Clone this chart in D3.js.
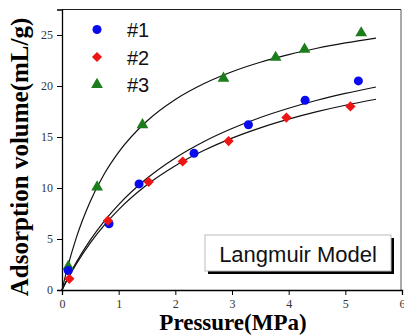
<!DOCTYPE html>
<html>
<head>
<meta charset="UTF-8">
<title>Langmuir adsorption</title>
<script src="https://cdn.jsdelivr.net/npm/d3@7"></script>
<style>
  body { margin: 0; background: #fff; }
  svg { display: block; }
</style>
</head>
<body>
<script>
// measured points (pressure MPa, adsorption mL/g)
var p1 = [0.11, 0.83, 1.36, 2.33, 3.29, 4.29, 5.23];
var v1 = [1.9, 6.5, 10.4, 13.4, 16.2, 18.6, 20.5];
var p2 = [0.13, 0.81, 1.53, 2.13, 2.94, 3.96, 5.09];
var v2 = [1.1, 6.8, 10.6, 12.6, 14.6, 16.9, 18.0];
var p3 = [0.11, 0.62, 1.42, 2.85, 3.77, 4.28, 5.28];
var v3 = [2.3, 10.1, 16.2, 20.75, 22.8, 23.6, 25.2];

// fitted curves
var fitP = [0, 0.1, 0.25, 0.5, 0.75, 1, 1.5, 2, 2.5, 3, 3.5, 4, 4.5, 5, 5.54];
var fit1 = [0, 1.14, 2.68, 4.91, 6.78, 8.37, 10.95, 12.95, 14.54, 15.83, 16.91, 17.82, 18.6, 19.27, 19.9];
var fit2 = [0, 1.07, 2.53, 4.62, 6.38, 7.88, 10.31, 12.18, 13.67, 14.89, 15.9, 16.75, 17.48, 18.11, 18.7];
var fit3 = [0, 2.26, 5.09, 8.71, 11.42, 13.52, 16.57, 18.68, 20.22, 21.4, 22.33, 23.08, 23.7, 24.22, 24.7];

var xTicks = [0, 1, 2, 3, 4, 5, 6];
var yTicks = [0, 5, 10, 15, 20, 25];
var names = ["#1", "#2", "#3"];

var W = 404, H = 335;
var svg = d3.select("body").append("svg").attr("width", W).attr("height", H);

var x = d3.scaleLinear().domain([0, 6]).range([62, 402]);
var y = d3.scaleLinear().domain([0, 27.5]).range([290, 9.5]);

// frame top / right
svg.append("line").attr("x1", x(0)).attr("x2", 401).attr("y1", y(27.5)).attr("y2", y(27.5))
  .attr("stroke", "#222").attr("stroke-width", 1.2);
svg.append("line").attr("x1", 401).attr("x2", 401).attr("y1", y(27.5)).attr("y2", y(0))
  .attr("stroke", "#555").attr("stroke-width", 1);

// x axis
var gx = svg.append("g").attr("transform", "translate(0," + y(0) + ")");
gx.call(d3.axisBottom(x).tickValues(d3.range(0.5, 6, 1)).tickSize(3).tickFormat(""));
gx.call(d3.axisBottom(x).tickValues(xTicks).tickSize(5).tickPadding(4).tickFormat(d3.format("d")));
gx.selectAll(".domain").attr("stroke", "#000").attr("stroke-width", 1.3);
gx.selectAll("text").attr("font-family", "Liberation Serif").attr("font-size", 12).attr("fill", "#333");

// y axis
var gy = svg.append("g").attr("transform", "translate(" + x(0) + ",0)");
gy.call(d3.axisLeft(y).tickValues(d3.range(2.5, 27.5, 5)).tickSize(3).tickFormat(""));
gy.call(d3.axisLeft(y).tickValues(yTicks).tickSize(5).tickPadding(4).tickFormat(d3.format("d")));
gy.selectAll(".domain").attr("stroke", "#000").attr("stroke-width", 1.3);
gy.selectAll("text").attr("font-family", "Liberation Serif").attr("font-size", 12).attr("fill", "#333");

// axis titles
svg.append("text").attr("x", 233).attr("y", 330).attr("text-anchor", "middle")
  .attr("font-family", "Liberation Serif").attr("font-weight", "bold").attr("font-size", 23)
  .text("Pressure(MPa)");
svg.append("text").attr("transform", "translate(28,157) rotate(-90)").attr("text-anchor", "middle")
  .attr("font-family", "Liberation Serif").attr("font-weight", "bold").attr("font-size", 25)
  .text("Adsorption volume(mL/g)");

// fit lines
var line = d3.line().x(function(d) { return x(d[0]); }).y(function(d) { return y(d[1]); })
  .curve(d3.curveMonotoneX);
[fit1, fit2, fit3].forEach(function(f) {
  svg.append("path").datum(d3.zip(fitP, f)).attr("d", line)
    .attr("fill", "none").attr("stroke", "#111").attr("stroke-width", 1.2);
});

// markers (diamond = square turned 45deg)
var series = [
  { p: p3, v: v3, sym: d3.symbolTriangle, size: 60, rot: 0, color: "#1b7d1b" },
  { p: p1, v: v1, sym: d3.symbolCircle, size: 64, rot: 0, color: "#0a0aee" },
  { p: p2, v: v2, sym: d3.symbolSquare, size: 52, rot: 45, color: "#ee1515" }
];
series.forEach(function(s) {
  svg.append("g").selectAll("path").data(d3.zip(s.p, s.v)).enter().append("path")
    .attr("transform", function(d) {
      return "translate(" + x(d[0]) + "," + y(d[1]) + ") rotate(" + s.rot + ")";
    })
    .attr("d", d3.symbol().type(s.sym).size(s.size))
    .attr("fill", s.color);
});

// legend
var legend = [series[1], series[2], series[0]];
legend.forEach(function(l, i) {
  var cy = 29.5 + i * 27.5;
  svg.append("path").attr("transform", "translate(97," + cy + ") rotate(" + l.rot + ")")
    .attr("d", d3.symbol().type(l.sym).size(l.size)).attr("fill", l.color);
  svg.append("text").attr("x", 127).attr("y", cy + 7.5)
    .attr("font-family", "Liberation Sans").attr("font-size", 20).attr("fill", "#111")
    .text(names[i]);
});

// model label box with shadow
svg.append("rect").attr("x", 208).attr("y", 238).attr("width", 186).attr("height", 36).attr("fill", "#000");
svg.append("rect").attr("x", 205).attr("y", 235).attr("width", 186).attr("height", 36)
  .attr("fill", "#fff").attr("stroke", "#bbb").attr("stroke-width", 1);
svg.append("text").attr("x", 298).attr("y", 262).attr("text-anchor", "middle")
  .attr("font-family", "Liberation Sans").attr("font-size", 22).attr("fill", "#111")
  .text("Langmuir Model");
</script>
</body>
</html>
